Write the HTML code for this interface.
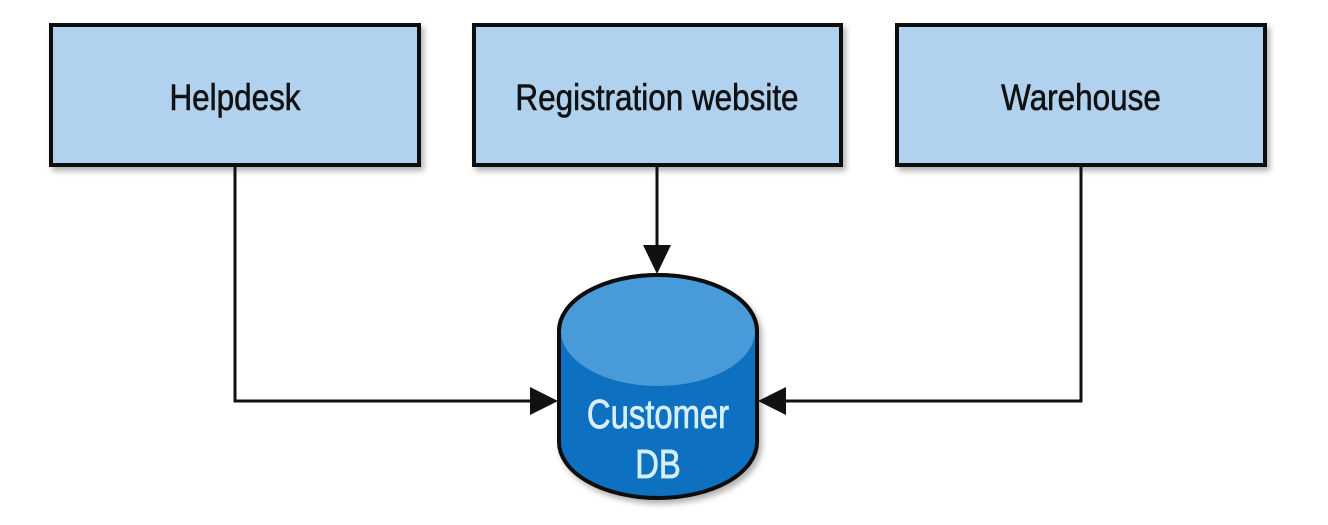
<!DOCTYPE html>
<html><head><style>
body{margin:0;width:1328px;height:520px;background:#fff;overflow:hidden}
</style></head><body>
<svg width="1328" height="520" viewBox="0 0 1328 520" xmlns="http://www.w3.org/2000/svg">
<defs><filter id="s" x="-10%" y="-10%" width="130%" height="140%"><feDropShadow dx="3" dy="4" stdDeviation="3" flood-color="#000" flood-opacity="0.3"/></filter></defs>
<g fill="#b0d2ee" stroke="#111" stroke-width="4" filter="url(#s)">
<rect x="51" y="25" width="368" height="140"/>
<rect x="474" y="25" width="367" height="140"/>
<rect x="897" y="25" width="368" height="140"/>
</g>
<g font-family="Liberation Sans, sans-serif" font-size="37" fill="#111" stroke="#111" stroke-width="0.6" text-anchor="middle">
<text x="235" y="110" transform="translate(235 0) scale(0.85 1) translate(-235 0)">Helpdesk</text>
<text x="657" y="110" transform="translate(657 0) scale(0.85 1) translate(-657 0)">Registration website</text>
<text x="1081" y="110" transform="translate(1081 0) scale(0.85 1) translate(-1081 0)">Warehouse</text>
</g>
<g stroke="#111" stroke-width="3" fill="none">
<polyline points="235,167 235,401 532,401"/>
<polyline points="1081,167 1081,401 784,401"/>
<line x1="657" y1="167" x2="657" y2="248"/>
</g>
<g fill="#111">
<polygon points="530,387 558,401 530,415"/>
<polygon points="786,387 758,401 786,415"/>
<polygon points="643,245 671,245 657,274"/>
</g>
<g filter="url(#s)">
<path d="M559,331 L559,442 A99,56 0 0 0 757,442 L757,331 A99,56 0 0 0 559,331 Z" fill="#0f6fc0" stroke="#111" stroke-width="4"/>
<ellipse cx="658" cy="331" rx="97" ry="55" fill="#4a9ad8"/>
<path d="M559,331 A99,56 0 0 1 757,331" fill="none" stroke="#111" stroke-width="4"/>
</g>
<g font-family="Liberation Sans, sans-serif" font-size="41" fill="#d6eefa" stroke="#d6eefa" stroke-width="0.8" text-anchor="middle">
<text x="658" y="428" transform="translate(658 0) scale(0.8 1) translate(-658 0)">Customer</text>
<text x="658" y="478" transform="translate(658 0) scale(0.8 1) translate(-658 0)">DB</text>
</g>
</svg>
</body></html>
